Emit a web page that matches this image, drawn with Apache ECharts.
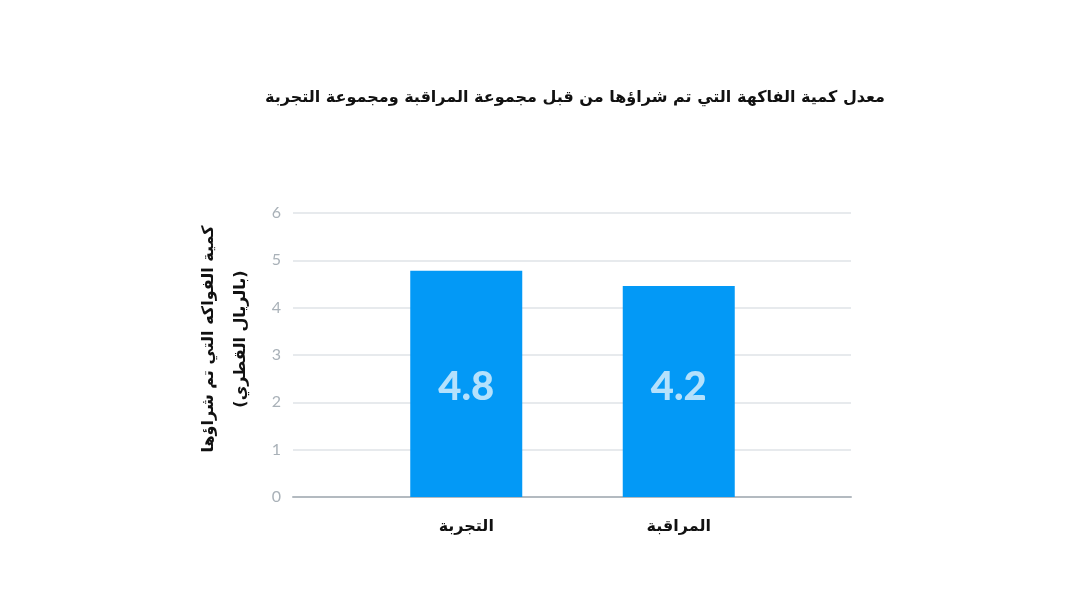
<!DOCTYPE html>
<html><head><meta charset="utf-8">
<script src="https://cdn.jsdelivr.net/npm/echarts@6/dist/echarts.min.js"></script>
<style>html,body{margin:0;padding:0;background:#fff}#c{width:1085px;height:610px}</style>
</head><body><div id="c"></div>
<script>
const title = 'معدل كمية الفاكهة التي تم شراؤها من قبل مجموعة المراقبة ومجموعة التجربة';
const yAxisName = 'كمية الفواكه التي تم شراؤها\n(بالريال القطري)';
const categories = ['التجربة', 'المراقبة'];
const values = [4.78, 4.46];
const valueLabels = ['4.8', '4.2'];
const yMin = 0, yMax = 6, yStep = 1;

const chart = echarts.init(document.getElementById('c'));
chart.setOption({
  animation: false,
  backgroundColor: '#ffffff',
  title: {
    text: title, left: 570, top: 85, textAlign: 'center',
    textStyle: {fontFamily: 'DejaVu Sans', fontSize: 16, fontWeight: 'bold', color: '#111'}
  },
  grid: [
    {left: 293, right: 234, top: 213, bottom: 113},
    {left: 360, right: 300, top: 213, bottom: 113}
  ],
  xAxis: [
    {gridIndex: 0, type: 'category', data: [''], axisLine: {lineStyle: {color: '#b3bac0', width: 2}},
     axisTick: {show: false}, axisLabel: {show: false}},
    {gridIndex: 1, type: 'category', data: categories, axisLine: {show: false}, axisTick: {show: false},
     axisLabel: {margin: 22, color: '#111', fontFamily: 'DejaVu Sans', fontSize: 16, fontWeight: 'bold'}}
  ],
  yAxis: [
    {gridIndex: 0, type: 'value', min: yMin, max: yMax, interval: yStep,
     name: yAxisName, nameLocation: 'middle', nameGap: 36, nameRotate: 90,
     nameTextStyle: {fontFamily: 'DejaVu Sans', fontSize: 16, fontWeight: 'bold', color: '#111', lineHeight: 32, padding: [0, 0, 0, 32]},
     axisLine: {show: false}, axisTick: {show: false},
     axisLabel: {margin: 12, color: '#a9b1b8', fontFamily: 'Lato', fontSize: 16},
     splitLine: {lineStyle: {color: '#e7eaed', width: 2}}},
    {gridIndex: 1, type: 'value', min: yMin, max: yMax, interval: yStep, show: false, splitLine: {show: false}}
  ],
  series: [{
    type: 'bar', xAxisIndex: 1, yAxisIndex: 1, data: values, barWidth: 112,
    itemStyle: {color: '#0399f6'},
    label: {
      show: true, position: 'insideBottom', distance: 94,
      formatter: p => valueLabels[p.dataIndex],
      color: '#b5e1fc', fontFamily: 'Lato', fontWeight: 900, fontSize: 40, lineHeight: 32
    }
  }]
});
</script></body></html>
